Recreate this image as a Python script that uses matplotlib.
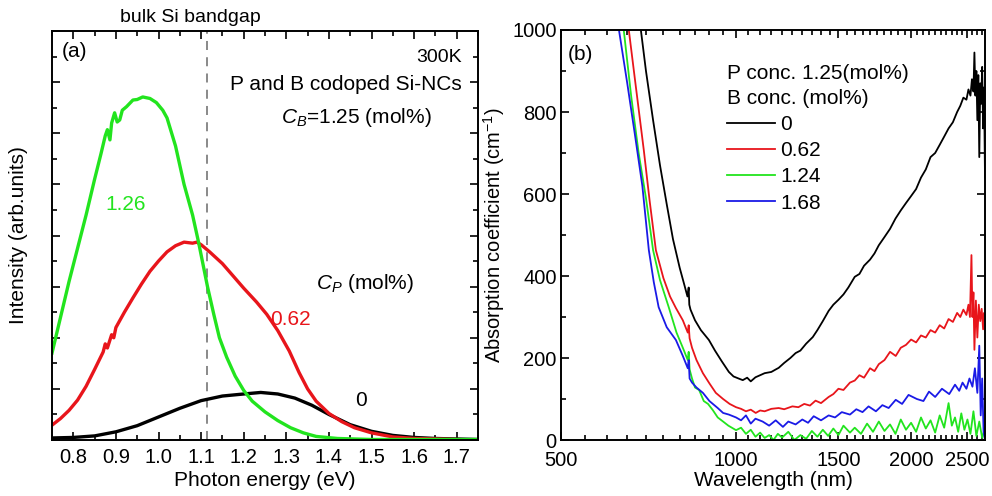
import matplotlib
matplotlib.use("Agg")
import matplotlib.pyplot as plt
from matplotlib.ticker import MultipleLocator, FixedLocator, NullFormatter, FixedFormatter
import matplotlib.transforms as mtransforms

plt.rcParams['font.family'] = ['Liberation Sans', 'DejaVu Sans']
plt.rcParams['mathtext.fontset'] = 'custom'
plt.rcParams['mathtext.rm'] = 'Liberation Sans'
plt.rcParams['mathtext.it'] = 'Liberation Sans:italic'
plt.rcParams['axes.linewidth'] = 1.4

# ---- panel (a): PL spectra ----
e_green = [0.75, 0.77, 0.79, 0.81, 0.83, 0.85, 0.865, 0.875, 0.88, 0.886,
           0.89, 0.897, 0.903, 0.909, 0.915, 0.925, 0.94, 0.95, 0.963, 0.98,
           0.995, 1.01, 1.02, 1.04, 1.06, 1.08, 1.094, 1.115, 1.13, 1.143,
           1.16, 1.18, 1.20, 1.22, 1.25, 1.28, 1.31, 1.34, 1.37, 1.42,
           1.50, 1.60, 1.75]
pl_green = [1.70, 2.40, 3.10, 3.75, 4.40, 5.10, 5.60, 5.95, 6.07, 5.87,
            6.20, 6.40, 6.22, 6.26, 6.45, 6.52, 6.65, 6.66, 6.71, 6.68,
            6.60, 6.45, 6.30, 5.75, 5.00, 4.40, 3.87, 3.00, 2.45, 2.00,
            1.62, 1.25, 0.97, 0.76, 0.55, 0.38, 0.24, 0.14, 0.07, 0.03,
            0.01, 0.01, 0.01]

e_red = [0.75, 0.77, 0.79, 0.81, 0.83, 0.85, 0.87, 0.875, 0.88, 0.89,
         0.895, 0.90, 0.92, 0.94, 0.96, 0.98, 1.00, 1.02, 1.04, 1.06,
         1.08, 1.09, 1.10, 1.12, 1.15, 1.174, 1.20, 1.23, 1.254, 1.28,
         1.307, 1.33, 1.35, 1.37, 1.40, 1.43, 1.46, 1.50, 1.55, 1.60,
         1.65, 1.70, 1.75]
pl_red = [0.29, 0.42, 0.58, 0.78, 1.05, 1.38, 1.72, 1.88, 1.80, 2.06,
          2.00, 2.20, 2.50, 2.78, 3.05, 3.30, 3.50, 3.68, 3.80, 3.87,
          3.85, 3.87, 3.82, 3.68, 3.45, 3.22, 2.97, 2.70, 2.46, 2.14,
          1.74, 1.32, 1.00, 0.76, 0.52, 0.36, 0.24, 0.14, 0.06, 0.03,
          0.02, 0.01, 0.0]

e_black = [0.75, 0.80, 0.85, 0.90, 0.95, 1.00, 1.05, 1.10, 1.15, 1.20,
           1.24, 1.28, 1.32, 1.36, 1.40, 1.45, 1.50, 1.55, 1.60, 1.65,
           1.70, 1.75]
pl_black = [0.04, 0.05, 0.08, 0.16, 0.28, 0.45, 0.62, 0.77, 0.86, 0.90,
            0.93, 0.90, 0.82, 0.68, 0.50, 0.30, 0.17, 0.09, 0.05, 0.03,
            0.02, 0.01]

bandgap = 1.115

# ---- panel (b): absorption ----
lam_0 = [686, 700, 720, 740, 760, 779, 800, 815, 825, 829,
         831, 835, 850, 870, 898, 920, 945, 972, 990, 1010,
         1027, 1045, 1060, 1080, 1100, 1120, 1150, 1170, 1184, 1210,
         1240, 1266, 1290, 1320, 1355, 1380, 1410, 1443, 1470, 1500,
         1530, 1560, 1600, 1630, 1660, 1700, 1730, 1760, 1800, 1840,
         1880, 1920, 1960, 2000, 2040, 2080, 2120, 2160, 2200, 2240,
         2280, 2320, 2360, 2400, 2430, 2460, 2490, 2510, 2530, 2545,
         2560, 2570, 2580, 2590, 2600, 2610, 2620, 2630, 2640, 2650,
         2660, 2670, 2680]
abs_0 = [1000, 900, 780, 670, 575, 490, 420, 378, 350, 372,
         330, 318, 292, 268, 244, 218, 192, 166, 155, 150,
         146, 152, 143, 153, 158, 163, 166, 172, 176, 188,
         200, 212, 218, 235, 251, 268, 290, 315, 330, 342,
         355, 372, 398, 405, 425, 440, 455, 475, 495, 515,
         540, 560, 578, 595, 612, 640, 660, 690, 700, 720,
         740, 760, 775, 800, 815, 835, 830, 855, 840, 880,
         850, 945, 840, 900, 780, 890, 690, 870, 820, 910,
         760, 860, 640]

lam_062 = [654, 670, 694, 710, 728, 750, 770, 788, 810, 826,
           829, 832, 840, 855, 877, 900, 923, 950, 975, 1000,
           1020, 1040, 1060, 1081, 1100, 1120, 1150, 1184, 1210, 1250,
           1280, 1310, 1340, 1370, 1400, 1443, 1470, 1500, 1530, 1570,
           1600, 1630, 1660, 1700, 1730, 1760, 1800, 1840, 1882, 1920,
           1960, 2000, 2040, 2080, 2120, 2160, 2200, 2240, 2280, 2320,
           2360, 2400, 2430, 2460, 2490, 2510, 2525, 2540, 2550, 2560,
           2570, 2585, 2600, 2615, 2630, 2645, 2660, 2670, 2680]
abs_062 = [1000, 880, 707, 585, 463, 395, 350, 322, 292, 262,
           280, 248, 225, 195, 163, 138, 115, 100, 88, 80,
           76, 70, 74, 66, 72, 70, 76, 78, 75, 82,
           80, 88, 84, 96, 90, 105, 112, 125, 122, 140,
           145, 158, 152, 175, 168, 185, 195, 215, 205, 225,
           232, 245, 238, 255, 250, 268, 262, 280, 272, 295,
           288, 310, 300, 318, 305, 330, 300, 451, 300, 360,
           220, 340, 250, 330, 290, 320, 270, 310, 290]

lam_124 = [641, 660, 680, 700, 720, 740, 766, 790, 810, 826,
           829, 832, 840, 850, 864, 880, 895, 912, 930, 950,
           970, 1000, 1020, 1040, 1060, 1080, 1100, 1120, 1140, 1160,
           1180, 1200, 1230, 1260, 1290, 1320, 1350, 1380, 1410, 1440,
           1470, 1500, 1530, 1570, 1600, 1640, 1680, 1720, 1760, 1800,
           1840, 1880, 1920, 1960, 2000, 2040, 2080, 2120, 2160, 2200,
           2240, 2280, 2320, 2350, 2380, 2410, 2440, 2470, 2500, 2530,
           2560, 2590, 2620, 2650, 2680]
abs_124 = [1000, 840, 700, 590, 463, 390, 324, 262, 225, 195,
           215, 172, 150, 128, 122, 95, 88, 73, 55, 45,
           35, 24, 30, 15, 25, 8, 18, 5, 12, 0,
           15, 6, 20, 0, 12, 3, 22, 8, 25, 10,
           28, 12, 35, 18, 30, 15, 40, 20, 45, 22,
           38, 15, 50, 25, 42, 20, 55, 28, 48, 18,
           60, 30, 90, 35, 55, 20, 65, 25, 50, 15,
           70, 10, 45, 5, 30]

lam_168 = [629, 650, 670, 690, 708, 722, 736, 760, 788, 810,
           826, 829, 832, 840, 855, 877, 900, 930, 950, 972,
           1000, 1020, 1040, 1060, 1080, 1111, 1140, 1170, 1204, 1230,
           1266, 1300, 1330, 1360, 1400, 1443, 1480, 1520, 1570, 1610,
           1650, 1690, 1740, 1785, 1830, 1882, 1930, 1980, 2046, 2100,
           2147, 2200, 2260, 2326, 2380, 2420, 2452, 2490, 2520, 2550,
           2575, 2600, 2620, 2635, 2650, 2665, 2680]
abs_168 = [1000, 870, 745, 620, 463, 385, 324, 275, 244, 205,
           175, 195, 150, 140, 128, 115, 95, 78, 66, 62,
           55, 48, 60, 40, 52, 45, 35, 48, 32, 45,
           38, 50, 42, 58, 48, 60, 55, 68, 62, 75,
           68, 82, 70, 85, 78, 98, 88, 110, 100, 95,
           118, 105, 125, 112, 135, 120, 140, 125, 150, 130,
           175, 115, 230, 60, 150, 20, 0]

b_labels = ['0', '0.62', '1.24', '1.68']
wl_ticks = [500, 1000, 1500, 2000, 2500]

BLACK, RED, GREEN, BLUE = 'black', '#e8151b', '#22e41e', '#1a1ae6'
FS = 15

fig = plt.figure(figsize=(9.92, 4.96), dpi=100)
ax1 = fig.add_axes([52 / 992, 56 / 496, 426 / 992, 409 / 496])
ax2 = fig.add_axes([561 / 992, 56 / 496, 424 / 992, 410 / 496])

# panel (a)
ax1.axvline(bandgap, color='gray', ls=(0, (5, 4)), lw=1.3)
ax1.plot(e_black, pl_black, color=BLACK, lw=2.4)
ax1.plot(e_red, pl_red, color=RED, lw=2.4)
ax1.plot(e_green, pl_green, color=GREEN, lw=2.4)
ax1.set_xlim(0.75, 1.75)
ax1.set_ylim(0, 8)
ax1.xaxis.set_major_locator(MultipleLocator(0.1))
ax1.xaxis.set_minor_locator(MultipleLocator(0.05))
ax1.yaxis.set_major_locator(MultipleLocator(1))
ax1.yaxis.set_minor_locator(MultipleLocator(0.5))
ax1.set_yticklabels([])
ax1.xaxis.set_major_formatter(plt.FuncFormatter(lambda v, p: f"{v:.1f}"))
ax1.set_xlabel('Photon energy (eV)', fontsize=FS)
ax1.set_ylabel('Intensity (arb.units)', fontsize=FS)
ax1.yaxis.set_label_coords(-0.056, 0.5)

ax1.text(0.773, 7.59, '(a)', fontsize=FS, va='center', ha='left')
ax1.text(1.712, 7.48, '300K', fontsize=FS - 1, va='center', ha='right')
ax1.text(1.712, 6.95, 'P and B codoped Si-NCs', fontsize=FS, va='center', ha='right')
ax1.text(1.642, 6.30, r'$C_B$=1.25 (mol%)', fontsize=FS, va='center', ha='right')
ax1.text(0.923, 4.60, '1.26', fontsize=FS, color=GREEN, va='center', ha='center')
ax1.text(1.37, 3.07, r'$C_P$ (mol%)', fontsize=FS, va='center', ha='left')
ax1.text(1.31, 2.35, '0.62', fontsize=FS, color=RED, va='center', ha='center')
ax1.text(1.476, 0.78, '0', fontsize=FS, color=BLACK, va='center', ha='center')
trans = mtransforms.blended_transform_factory(ax1.transData, ax1.transAxes)
ax1.text(1.075, 1.034, 'bulk Si bandgap', fontsize=FS - 1, transform=trans,
         va='center', ha='center')

# panel (b)
ax2.plot(lam_0, abs_0, color=BLACK, lw=1.3, label=b_labels[0])
ax2.plot(lam_062, abs_062, color=RED, lw=1.3, label=b_labels[1])
ax2.plot(lam_124, abs_124, color=GREEN, lw=1.3, label=b_labels[2])
ax2.plot(lam_168, abs_168, color=BLUE, lw=1.3, label=b_labels[3])
ax2.set_xscale('log')
ax2.set_xlim(500, 2680)
ax2.set_ylim(0, 1000)
ax2.xaxis.set_major_locator(FixedLocator(wl_ticks))
ax2.xaxis.set_major_formatter(FixedFormatter([str(t) for t in wl_ticks]))
ax2.xaxis.set_minor_locator(MultipleLocator(50))
ax2.xaxis.set_minor_formatter(NullFormatter())
ax2.yaxis.set_major_locator(MultipleLocator(200))
ax2.yaxis.set_minor_locator(MultipleLocator(100))
ax2.set_xlabel('Wavelength (nm)', fontsize=FS)
ax2.set_ylabel('Absorption coefficient (cm$^{-1}$)', fontsize=FS - 0.5)
ax2.yaxis.set_label_coords(-0.127, 0.5)
ax2.text(0.017, 0.94, '(b)', fontsize=FS, transform=ax2.transAxes,
         va='center', ha='left')
leg = ax2.legend(title='P conc. 1.25(mol%)\nB conc. (mol%)', frameon=False,
                 fontsize=FS, title_fontsize=FS, alignment='left',
                 loc='upper left', bbox_to_anchor=(0.392, 0.918),
                 handlelength=2.3, handletextpad=0.25, labelspacing=0.35,
                 borderaxespad=0, borderpad=0)
leg.get_title().set_linespacing(1.4)

for ax in (ax1, ax2):
    ax.tick_params(which='both', direction='in', top=True, right=True,
                   labelsize=FS - 0.5, width=1.2)
    ax.tick_params(which='major', length=6, pad=4)
    ax.tick_params(which='minor', length=3.5)
    ax.tick_params(axis='x', which='major', pad=6)
    ax.xaxis.set_label_coords(0.5, -0.075)
    ax.xaxis.label.set_va('top')

# keep the "0" y label clear of the "500" x label
ax2.tick_params(axis='x', which='major', pad=8)
ax2.tick_params(axis='y', which='major', pad=3)

fig.savefig('out.png', dpi=100)
